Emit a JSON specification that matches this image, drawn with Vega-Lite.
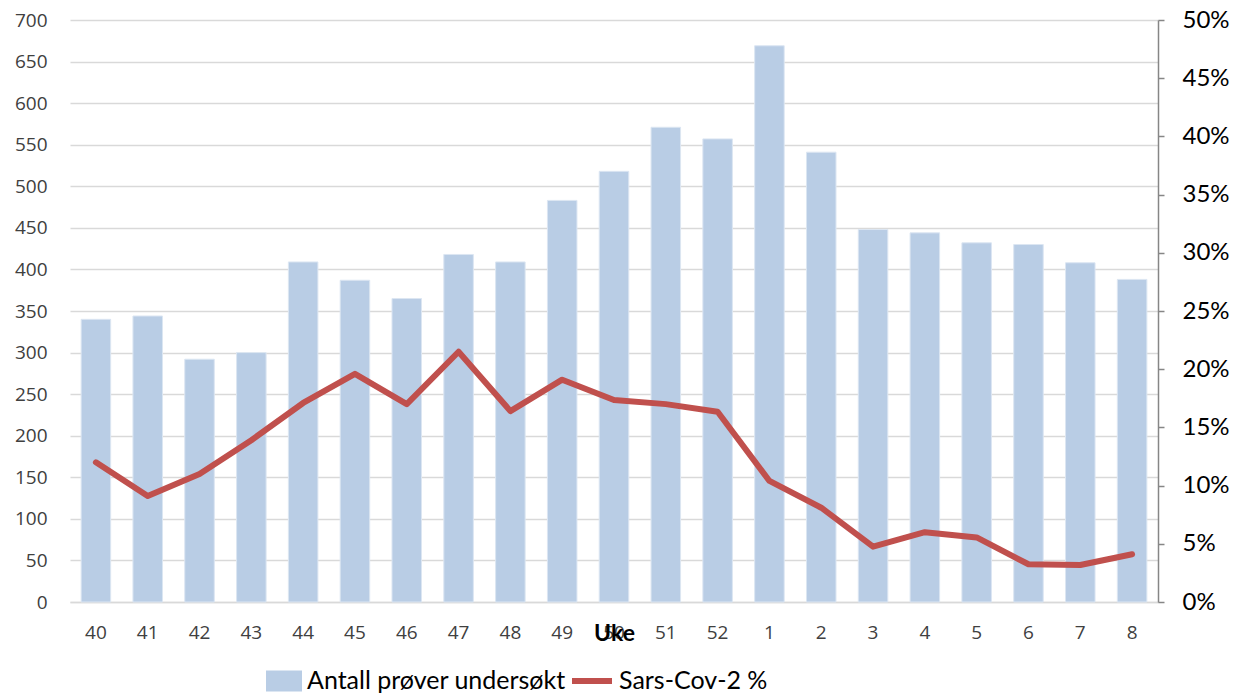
{
  "$schema": "https://vega.github.io/schema/vega-lite/v6.json",
  "autosize": "none",
  "width": 1088,
  "height": 582,
  "padding": {"left": 70, "top": 20, "right": 81, "bottom": 98},
  "background": "white",
  "config": {
    "view": {"stroke": null},
    "axis": {"labelFont": "Open Sans", "labelFontSize": 19, "labelColor": "#404040"},
    "legend": {"labelFont": "Lato", "labelFontSize": 25, "labelColor": "#000000", "padding": 0, "labelLimit": 0}
  },
  "data": {
    "values": [
      {"uke": "40", "antall": 340, "pct": 0.120},
      {"uke": "41", "antall": 344, "pct": 0.091},
      {"uke": "42", "antall": 292, "pct": 0.110},
      {"uke": "43", "antall": 300, "pct": 0.139},
      {"uke": "44", "antall": 409, "pct": 0.171},
      {"uke": "45", "antall": 387, "pct": 0.196},
      {"uke": "46", "antall": 365, "pct": 0.170},
      {"uke": "47", "antall": 418, "pct": 0.215},
      {"uke": "48", "antall": 409, "pct": 0.164},
      {"uke": "49", "antall": 483, "pct": 0.191},
      {"uke": "50", "antall": 518, "pct": 0.1735},
      {"uke": "51", "antall": 571, "pct": 0.170},
      {"uke": "52", "antall": 557, "pct": 0.1635},
      {"uke": "1", "antall": 669, "pct": 0.104},
      {"uke": "2", "antall": 541, "pct": 0.081},
      {"uke": "3", "antall": 448, "pct": 0.0475},
      {"uke": "4", "antall": 444, "pct": 0.060},
      {"uke": "5", "antall": 432, "pct": 0.0555},
      {"uke": "6", "antall": 430, "pct": 0.0324},
      {"uke": "7", "antall": 408, "pct": 0.0318},
      {"uke": "8", "antall": 388, "pct": 0.041}
    ]
  },
  "encoding": {
    "x": {
      "field": "uke",
      "type": "ordinal",
      "sort": null,
      "scale": {"paddingInner": 0.43, "paddingOuter": 0.215},
      "axis": {
        "title": "Uke",
        "titleFont": "Lato",
        "titleFontSize": 23,
        "titleFontWeight": "bold",
        "titleColor": "#000000",
        "titlePadding": -20,
        "labelAngle": 0,
        "labelPadding": 21,
        "ticks": false,
        "domainColor": "#D9D9D9",
        "domainWidth": 1.5
      }
    }
  },
  "layer": [
    {
      "mark": {"type": "bar", "stroke": "#DCE6F2", "strokeWidth": 1},
      "encoding": {
        "y": {
          "field": "antall",
          "type": "quantitative",
          "scale": {"domain": [0, 700]},
          "axis": {
            "title": null,
            "values": [0, 50, 100, 150, 200, 250, 300, 350, 400, 450, 500, 550, 600, 650, 700],
            "grid": true,
            "gridColor": "#D9D9D9",
            "gridWidth": 1.5,
            "domain": false,
            "ticks": false,
            "labelPadding": 23
          }
        },
        "fill": {
          "datum": "Antall prøver undersøkt",
          "scale": {"range": ["#B9CDE5"]},
          "legend": {
            "title": null,
            "orient": "none",
            "legendX": 196,
            "legendY": 643,
            "symbolType": "M-1,-0.58H1V0.58H-1Z",
            "symbolSize": 1296,
            "symbolStrokeWidth": 0,
            "labelOffset": 5
          }
        }
      }
    },
    {
      "mark": {"type": "line", "strokeWidth": 6, "strokeCap": "round", "strokeJoin": "round"},
      "encoding": {
        "y": {
          "field": "pct",
          "type": "quantitative",
          "scale": {"domain": [0, 0.5]},
          "axis": {
            "title": null,
            "orient": "right",
            "format": ".0%",
            "values": [0, 0.05, 0.1, 0.15, 0.2, 0.25, 0.3, 0.35, 0.4, 0.45, 0.5],
            "grid": false,
            "domainColor": "#868686",
            "domainWidth": 1.5,
            "tickColor": "#868686",
            "tickWidth": 1.5,
            "tickSize": 6,
            "labelPadding": 18,
            "labelFont": "Lato",
            "labelFontSize": 24,
            "labelColor": "#000000"
          }
        },
        "stroke": {
          "datum": "Sars-Cov-2 %",
          "scale": {"range": ["#C0504D"]},
          "legend": {
            "title": null,
            "orient": "none",
            "legendX": 499,
            "legendY": 638,
            "symbolType": "stroke",
            "symbolSize": 1600,
            "symbolStrokeWidth": 6,
            "labelOffset": 4
          }
        }
      }
    }
  ],
  "resolve": {"scale": {"y": "independent", "fill": "independent", "stroke": "independent"}}
}
